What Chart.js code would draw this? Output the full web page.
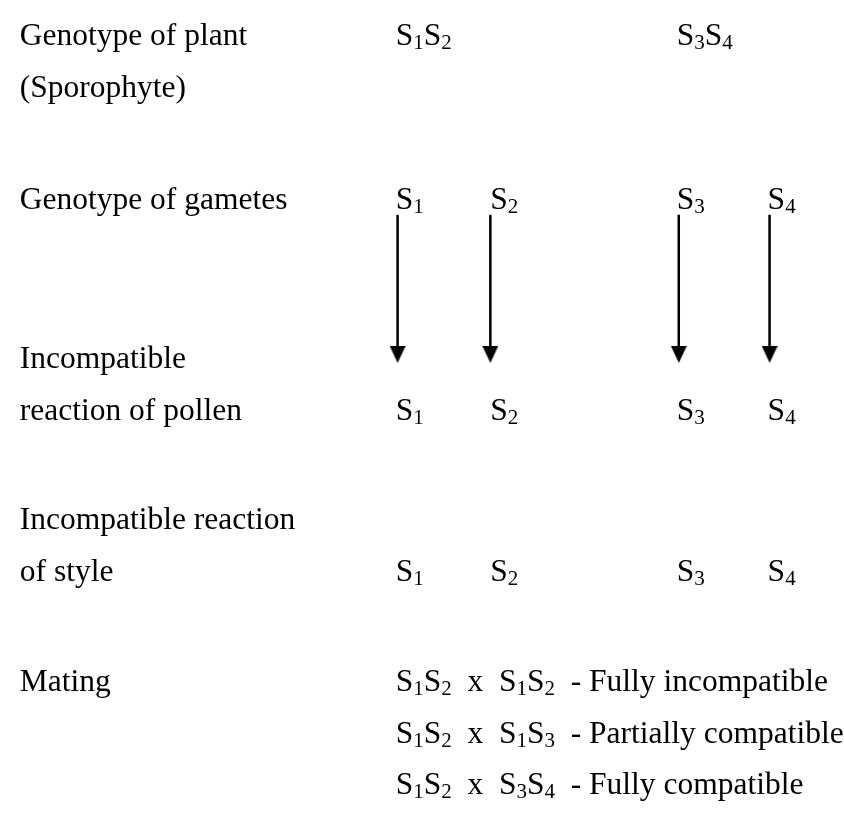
<!DOCTYPE html>
<html>
<head>
<meta charset="utf-8">
<script src="https://cdn.jsdelivr.net/npm/chart.js@4"></script>
<style>
  html, body { margin: 0; padding: 0; background: #fff; }
  canvas { display: block; }
</style>
</head>
<body>
<canvas id="diagram" width="844" height="817"></canvas>
<script>
// left column labels and their baselines
var rowLabels = ['Genotype of plant', '(Sporophyte)', 'Genotype of gametes', 'Incompatible',
                 'reaction of pollen', 'Incompatible reaction', 'of style', 'Mating'];
var rowY = [36, 89, 204, 367, 420, 532, 585, 698];

// plant genotypes (sporophyte)
var plantGenotypes = ['S1S2', 'S3S4'];
var plantX = [395, 683];

// alleles in gametes / pollen / style
var alleles = ['S1', 'S2', 'S3', 'S4'];
var alleleX = [395, 492, 683, 776];
var gameteY = 204, pollenY = 420, styleY = 585;

// arrows gametes -> pollen
var arrowX = [397, 492, 685, 778];
var arrowTop = 210, arrowHead = 353;

// matings
var matings = ['S1S2  x  S1S2  - Fully incompatible',
               'S1S2  x  S1S3  - Partially compatible',
               'S1S2  x  S3S4  - Fully compatible'];
var matingX = 395;
var matingY = [698, 751, 804];

var FONT = '"Liberation Serif", "Times New Roman", serif';
var SIZE = 31.5, SUB = 21;

function isSub(str, j) {
    return /[0-9]/.test(str[j]) && j > 0 && str[j - 1] === 'S';
}

function drawRich(ctx, x, y, str) {
    var i = 0;
    while (i < str.length) {
        if (isSub(str, i)) {
            ctx.font = SUB + 'px ' + FONT;
            ctx.fillText(str[i], x, y + 4);
            x += ctx.measureText(str[i]).width;
            i++;
        } else {
            var j = i;
            while (j < str.length && !isSub(str, j)) j++;
            var chunk = str.slice(i, j);
            ctx.font = SIZE + 'px ' + FONT;
            ctx.fillText(chunk, x, y);
            x += ctx.measureText(chunk).width;
            i = j;
        }
    }
}

var textPlugin = {
    id: 'textPlugin',
    afterDatasetsDraw: function (chart) {
        var ctx = chart.ctx, sx = chart.scales.x, sy = chart.scales.y;
        ctx.save();
        ctx.fillStyle = '#000';
        ctx.textBaseline = 'alphabetic';
        ctx.textAlign = 'left';
        rowLabels.forEach(function (t, i) {
            drawRich(ctx, sx.getPixelForValue(10), sy.getPixelForValue(rowY[i]), t);
        });
        plantGenotypes.forEach(function (g, i) {
            drawRich(ctx, sx.getPixelForValue(plantX[i]), sy.getPixelForValue(rowY[0]), g);
        });
        [gameteY, pollenY, styleY].forEach(function (y) {
            alleles.forEach(function (a, i) {
                drawRich(ctx, sx.getPixelForValue(alleleX[i]), sy.getPixelForValue(y), a);
            });
        });
        matings.forEach(function (m, i) {
            drawRich(ctx, sx.getPixelForValue(matingX), sy.getPixelForValue(matingY[i]), m);
        });
        ctx.restore();
    }
};

// arrow head: narrow downward triangle
var head = document.createElement('canvas');
head.width = 16; head.height = 17;
var hc = head.getContext('2d');
hc.fillStyle = '#000';
hc.beginPath();
hc.moveTo(0, 0); hc.lineTo(16, 0); hc.lineTo(8, 17);
hc.closePath();
hc.fill();

var datasets = arrowX.map(function (x) {
    return {
        type: 'line',
        data: [{ x: x, y: arrowTop }, { x: x, y: arrowHead }],
        borderColor: '#000',
        borderWidth: 2.5,
        pointRadius: 0,
        fill: false
    };
});
datasets.push({
    type: 'scatter',
    data: arrowX.map(function (x) { return { x: x, y: arrowHead }; }),
    pointStyle: head,
    pointRadius: 9
});

new Chart(document.getElementById('diagram'), {
    type: 'scatter',
    data: { datasets: datasets },
    options: {
        responsive: false,
        animation: false,
        layout: { padding: 0 },
        plugins: { legend: { display: false }, tooltip: { enabled: false } },
        scales: {
            x: { type: 'linear', min: 0, max: 844, display: false },
            y: { type: 'linear', min: 0, max: 817, reverse: true, display: false }
        }
    },
    plugins: [textPlugin]
});
</script>
</body>
</html>
